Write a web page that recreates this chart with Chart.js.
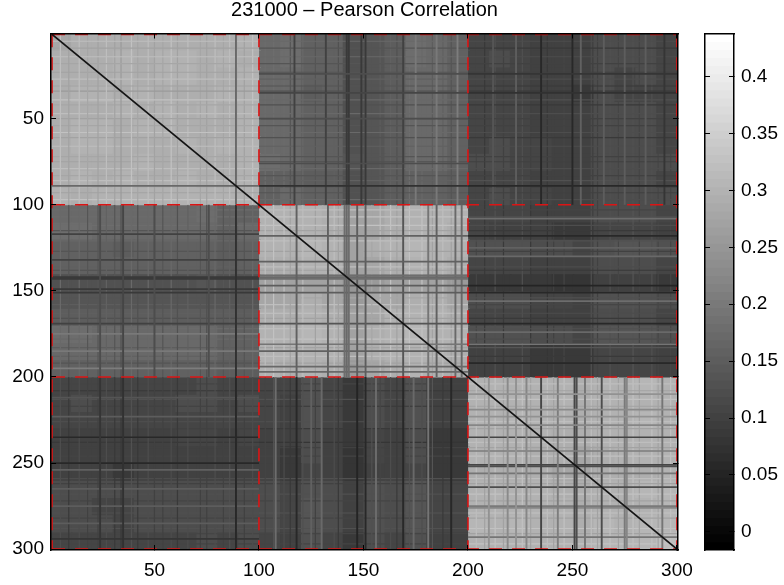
<!DOCTYPE html>
<html><head><meta charset="utf-8">
<style>html,body{margin:0;padding:0;background:#fff}canvas{position:absolute;left:0;top:0}</style>
<script src="https://cdn.jsdelivr.net/npm/chart.js@4"></script>
</head><body>
<canvas id="main" width="784" height="585"></canvas>
<canvas id="bar" width="784" height="585"></canvas>
<script>
const titleText = '231000 – Pearson Correlation';
const xTicks = [50,100,150,200,250,300];
const yTicks = [50,100,150,200,250,300];
const colorTicks = [0,0.05,0.1,0.15,0.2,0.25,0.3,0.35,0.4];
const blockEdges = [1,100,200,300];
const diagonalEnds = [1,300];
const cellSpan = 10;
const colorLimits = [-0.016,0.438];
const grayLevels = [0,1,2,3,4,5,6,7,8,9,10,11,12,13,14,15,16,17,18,19,20,21,22,23,24,25,26,27,28,29,30,31,32,33,34,35,36,37,38,39,40,41,42,43,44,45,46,47,48,49,50,51,52,53,54,55,56,57,58,59,60,61,62,63];
// correlation x100, upper triangle, one row per ten electrodes
const upperRows = [
[28,29,29,29,29,29,29,29,29,30, 17,18,16,16,13,14,15,18,17,16, 11,11,11,10,10,10,12,12,12,11],
[29,29,30,29,30,30,29,30,29, 17,18,16,16,13,14,15,18,17,16, 11,12,11,10,10,10,12,12,12,11],
[29,30,29,30,30,29,29,30, 17,17,16,16,13,14,15,17,17,16, 11,11,11,10,10,10,12,11,12,11],
[29,30,29,29,29,30,30, 17,17,15,16,13,14,15,17,17,16, 11,11,11,10,10,9,12,11,11,11],
[29,30,29,30,29,30, 17,17,16,16,13,14,15,17,17,16, 11,11,11,10,10,10,12,12,12,11],
[30,29,29,29,30, 17,17,16,16,13,14,15,17,17,16, 11,11,11,10,10,10,12,12,12,11],
[30,29,30,30, 17,17,16,16,13,14,15,17,17,16, 11,12,11,11,10,10,12,12,12,11],
[29,29,30, 18,17,16,16,14,14,15,17,17,16, 12,12,11,11,10,10,12,12,12,12],
[29,30, 16,16,15,15,13,14,15,16,16,15, 11,11,11,10,10,10,12,12,12,11],
[30, 16,17,16,16,13,14,15,16,16,15, 11,12,11,11,10,10,12,12,12,12],
[30,30,30,29,27,28,29,30,30,30, 11,11,11,10,10,10,12,12,12,11],
[30,30,29,27,28,29,30,30,29, 11,10,10,10,9,9,11,11,11,10],
[31,30,27,29,30,31,30,30, 13,13,13,12,12,11,13,14,14,13],
[30,27,28,29,30,30,29, 11,11,11,10,10,10,12,12,12,11],
[25,26,27,27,27,26, 9,9,9,9,8,8,10,10,10,9],
[28,28,29,29,28, 12,12,12,11,11,10,13,13,13,12],
[30,30,30,29, 11,11,11,10,10,10,12,12,12,11],
[31,30,30, 13,13,13,12,12,11,14,14,14,13],
[30,29, 10,10,10,9,9,9,11,11,11,10],
[29, 10,10,10,9,9,9,11,11,11,10],
[30,30,30,30,30,29,30,30,31,30],
[30,30,30,30,29,30,30,30,30],
[31,30,30,29,30,30,31,30],
[30,29,29,30,30,30,30],
[29,28,29,30,30,30],
[28,29,29,29,30],
[30,30,31,31],
[30,30,31],
[31,31],
[32]
];
// [index, from, to, correlation]: mirrored as one column and one row
const stripes = [
[89,1,100,0.17],[89,100,200,0.07],[89,200,300,0.06],
[24,100,200,0.12],[35,100,200,0.11],[50,100,200,0.12],[24,200,300,0.08],[35,200,300,0.07],[76,100,200,0.12],
[118,100,200,0.16],[133,100,200,0.16],[141,100,200,0.18],[142,100,200,0.17],[143,100,200,0.18],[147,100,200,0.15],[151,100,200,0.15],[169,100,200,0.14],[181,100,200,0.19],[185,100,200,0.16],[194,100,200,0.17],[197,100,200,0.17],
[117,1,100,0.1],[132,1,100,0.1],[142,1,100,0.09],[143,1,100,0.09],[149,1,100,0.09],[151,1,100,0.09],[169,1,100,0.1],[185,1,100,0.2],[195,1,100,0.21],[175,1,100,0.2],
[118,200,300,0.06],[147,200,300,0.05],[151,200,300,0.06],[169,200,300,0.06],[192,200,300,0.06],
[108,200,300,0.18],[125,200,300,0.16],[130,200,300,0.17],[156,200,300,0.18],[174,200,300,0.17],[181,200,300,0.19],
[210,200,300,0.24],[219,200,300,0.23],[223,200,300,0.24],[228,200,300,0.22],[235,200,300,0.11],[243,200,300,0.21],[251,200,300,0.11],[252,200,300,0.12],[256,200,300,0.19],[264,200,300,0.12],[275,200,300,0.2],[276,200,300,0.22],[293,200,300,0.19],
[223,1,100,0.15],[235,1,100,0.06],[250,1,100,0.06],[254,1,100,0.16],[265,1,100,0.15],[275,1,100,0.15],[285,1,100,0.15],[212,1,100,0.14],[294,1,100,0.08]
];
// [index, versus 1-100, versus 101-200, versus 201-300]: faint weave lines
const fineStripes = [
[5,.32,.17,.12],[9,.27,.14,.09],[14,.32,.17,.12],[18,.28,.14,.10],[23,.27,.14,.10],[27,.32,.16,.12],[31,.27,.14,.09],[34,.26,.13,.09],[39,.33,.17,.13],[42,.28,.13,.09],[47,.32,.17,.12],[50,.27,.14,.10],[54,.28,.14,.10],[58,.33,.17,.12],[61,.27,.13,.09],[66,.32,.16,.12],[72,.28,.14,.10],[75,.27,.13,.10],[79,.32,.17,.12],[83,.28,.14,.10],[86,.32,.16,.13],[93,.27,.14,.10],[97,.33,.17,.12],
[103,.18,.32,.11],[107,.18,.33,.13],[112,.18,.33,.12],[115,.14,.27,.09],[121,.17,.32,.13],[127,.14,.27,.10],[136,.16,.32,.12],[138,.13,.27,.09],[154,.14,.28,.13],[158,.15,.32,.11],[163,.16,.33,.12],[166,.13,.27,.09],[172,.18,.33,.13],[178,.17,.33,.12],[183,.15,.27,.14],[188,.16,.32,.09],[192,.14,.27,.08],
[204,.11,.11,.32],[208,.09,.09,.27],[213,.13,.13,.33],[217,.10,.09,.27],[226,.13,.13,.33],[230,.10,.09,.27],[238,.09,.08,.32],[241,.10,.10,.27],[246,.11,.11,.33],[259,.12,.13,.32],[262,.10,.10,.27],[268,.13,.13,.33],[272,.11,.11,.27],[279,.13,.14,.33],[282,.11,.11,.27],[288,.13,.13,.33],[291,.11,.11,.27],[297,.11,.11,.33]
];
const cmin = colorLimits[0], cmax = colorLimits[1];
const grayOf = l => { const g = Math.round(l/63*255); return `rgb(${g},${g},${g})`; };
const colorOf = v => grayOf(Math.max(0,Math.min(63,Math.floor((v-cmin)/(cmax-cmin)*64))));

const n = upperRows.length;
const cells = [], cellColors = [];
const at = (r,c) => (r<=c ? upperRows[r][c-r] : upperRows[c][r-c])/100;
for (let r=0;r<n;r++) for (let c=0;c<n;c++) {
  cells.push({x:c*cellSpan+cellSpan/2+0.5, y:[r*cellSpan+0.5, (r+1)*cellSpan+1.1]});
  cellColors.push(colorOf(at(r,c)));
}
const lineSet = (pts,color,width,order,dash) => ({type:'line',data:pts,borderColor:color,borderWidth:width,
  pointRadius:0,tension:0,fill:false,order,borderDash:dash||[],borderCapStyle:'butt',xAxisID:'x',yAxisID:'y'});
const datasets = [{type:'bar',data:cells,backgroundColor:cellColors,barThickness:22,grouped:false,
  categoryPercentage:1,barPercentage:1,order:5,borderWidth:0,xAxisID:'x',yAxisID:'y'}];
fineStripes.forEach(([i,...vals]) => vals.forEach((v,k) => {
  const a = blockEdges[k], b = blockEdges[k+1];
  datasets.push(lineSet([{x:i,y:a},{x:i,y:b}],colorOf(v),1.2,4));
  datasets.push(lineSet([{x:a,y:i},{x:b,y:i}],colorOf(v),1.2,4));
}));
stripes.forEach(([i,a,b,v]) => {
  datasets.push(lineSet([{x:i,y:a},{x:i,y:b}],colorOf(v),1.9,3));
  datasets.push(lineSet([{x:a,y:i},{x:b,y:i}],colorOf(v),1.7,3));
});
blockEdges.forEach(e => {
  datasets.push(lineSet([{x:e,y:1},{x:e,y:300}],'#dc1414',1.6,1,[13,10]));
  datasets.push(lineSet([{x:1,y:e},{x:300,y:e}],'#dc1414',1.6,1,[13,10]));
});
datasets.push(lineSet(diagonalEnds.map(v=>({x:v,y:v})),'#141414',1.8,0));

const font = {family:'"Liberation Sans",Arial,sans-serif',size:19};
const setTicks = list => s => { s.ticks = list.map(v=>({value:v})); };
const axis = (position,list,extra,showLabels,size) => Object.assign({
  type:'linear',position,offset:false,
  grid:{drawOnChartArea:false,drawTicks:true,tickLength:-5,tickColor:'#000',tickWidth:1,z:1,offset:false},
  border:{display:true,color:'#000',width:1.5,z:1},
  ticks:{display:showLabels,color:'#000',font,autoSkip:false,maxRotation:0,padding:position==='bottom'?14:12,callback:v=>String(v)},
  afterBuildTicks:setTicks(list),
  afterFit:s=>{ if(s.isHorizontal()) s.height=size; else s.width=size; }
},extra);
const xr = {min:0.5,max:300.5}, yr = {min:0.5,max:300.5,reverse:true};

new Chart(document.getElementById('main'),{
  data:{datasets},
  options:{responsive:false,animation:false,events:[],
    layout:{padding:{left:0,right:106,top:0,bottom:0}},
    plugins:{legend:{display:false},tooltip:{enabled:false},
      title:{display:true,fullSize:false,text:titleText,color:'#000',font:{family:font.family,size:20,weight:'normal',lineHeight:1},padding:{top:0,bottom:13.5}}},
    scales:{
      x:axis('bottom',xTicks,xr,true,35),
      x2:axis('top',xTicks,xr,false,0),
      y:axis('left',yTicks,yr,true,51),
      y2:axis('right',yTicks,yr,false,0)
    }}
});

const step = (cmax-cmin)/grayLevels.length;
const barCells = grayLevels.map(l=>({x:0.5,y:[cmin+l*step, cmin+(l+1.4)*step]}));
const cr = {min:cmin,max:cmax};
new Chart(document.getElementById('bar'),{
  data:{datasets:[{type:'bar',data:barCells,backgroundColor:grayLevels.map(grayOf),barThickness:31,grouped:false,borderWidth:0,xAxisID:'x',yAxisID:'y'}]},
  options:{responsive:false,animation:false,events:[],
    layout:{padding:{left:705,right:0,top:33.5,bottom:35}},
    plugins:{legend:{display:false},tooltip:{enabled:false},title:{display:false}},
    scales:{
      x:axis('bottom',[],{min:0,max:1},false,0),
      x2:axis('top',[],{min:0,max:1},false,0),
      y:axis('left',colorTicks,cr,false,0),
      y2:axis('right',colorTicks,cr,true,50)
    }}
});
</script>
</body></html>
